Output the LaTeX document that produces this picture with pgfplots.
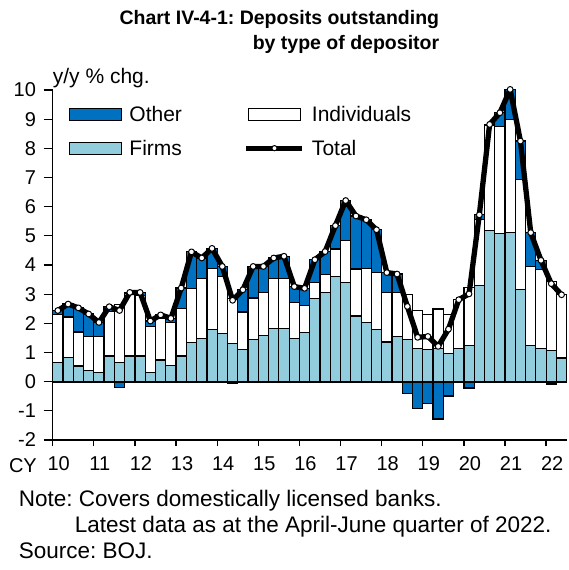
\documentclass[border=0pt]{standalone}
\usepackage{fontspec}
\setmainfont{Liberation Sans}
\usepackage{pgfplots}
\pgfplotsset{compat=1.18}
\usepackage{pgfplotstable}
\frenchspacing

\definecolor{otherblue}{RGB}{0,112,192}
\definecolor{firmblue}{RGB}{146,205,221}

% quarter index (0 = 2010 Q1), firms, individuals, other, total
\pgfplotstableread{
q  F    I    O     T
0  0.67 1.63 0.14  2.44
1  0.82 1.40 0.44  2.66
2  0.54 1.16 0.83  2.53
3  0.39 1.15 0.78  2.32
4  0.32 1.22 0.49  2.03
5  0.88 1.52 0.17  2.57
6  0.66 1.98 -0.20 2.44
7  0.88 2.15 0.03  3.06
8  0.88 2.08 0.10  3.06
9  0.32 1.56 0.20  2.08
10 0.74 1.43 0.12  2.29
11 0.55 1.47 0.15  2.17
12 0.88 1.62 0.71  3.21
13 1.35 1.84 1.26  4.45
14 1.49 2.05 0.70  4.24
15 1.78 2.09 0.70  4.57
16 1.64 1.96 0.35  3.95
17 1.30 1.54 -0.05 2.79
18 1.10 1.29 0.76  3.15
19 1.44 1.43 1.08  3.95
20 1.58 1.48 0.89  3.95
21 1.82 1.71 0.71  4.24
22 1.82 1.71 0.77  4.30
23 1.48 1.24 0.54  3.26
24 1.69 0.93 0.58  3.20
25 2.84 0.56 0.78  4.18
26 3.06 0.62 0.78  4.46
27 3.61 0.94 0.80  5.35
28 3.40 1.43 1.38  6.21
29 2.25 1.61 1.82  5.68
30 2.03 1.86 1.66  5.55
31 1.78 1.96 1.47  5.21
32 1.36 1.70 0.68  3.74
33 1.55 1.51 0.63  3.69
34 1.44 1.54 -0.40 2.58
35 1.14 1.29 -0.91 1.52
36 1.10 1.19 -0.74 1.55
37 1.15 1.34 -1.28 1.21
38 0.96 1.33 -0.49 1.80
39 1.15 1.66 0.00  2.81
40 1.23 2.00 -0.22 3.01
41 3.29 2.28 0.15  5.72
42 5.18 3.62 0.02  8.82
43 5.07 3.67 0.48  9.22
44 5.11 3.89 1.02  10.02
45 3.15 3.77 1.33  8.25
46 1.23 2.72 1.16  5.11
47 1.15 2.69 0.32  4.16
48 1.07 2.37 -0.08 3.36
49 0.81 2.17 0.00  2.98
}\deposits

\tikzset{barstyle/.style={draw=black, line width=1.2pt}}
\pgfplotsset{
  depbase/.style={
    scale only axis, width=514pt, height=350pt,
    xmin=-0.5, xmax=49.5, ymin=-2, ymax=10,
    bar width=1, clip=false,
  },
}

\begin{document}
\begin{tikzpicture}[font=\fontsize{21}{25}\selectfont]
\path[use as bounding box] (-52.7pt,-130pt) rectangle (515.3pt,440pt);

% negative part of "other", drawn down from zero
\begin{axis}[depbase, hide axis, ybar]
  \addplot[barstyle, fill=otherblue] table[x=q, y expr={min(\thisrow{O},0)}]{\deposits};
\end{axis}

\begin{axis}[depbase, ybar stacked,
  axis x line=bottom, axis y line=left,
  axis line style={-, line width=1.3pt},
  tick align=outside,
  tick label style={font=\fontsize{20}{24}\selectfont},
  xtick={-0.5,3.5,...,47.5},
  xticklabels={10,11,12,13,14,15,16,17,18,19,20,21,22},
  xtick style={black, line width=1.3pt, /pgfplots/major tick length=6pt},
  xticklabel style={anchor=north, xshift=6pt, yshift=-9pt},
  ytick={-2,...,10},
  yticklabels={-2,-1,0,1,2,3,4,5,6,7,8,9,10},
  ytick style={black, line width=1.3pt, /pgfplots/major tick length=9pt},
  yticklabel style={anchor=east, xshift=-9pt},
  legend columns=2,
  legend style={draw=none, fill=none, at={(0.026,0.966)}, anchor=north west,
    cells={anchor=west}, row sep=13pt,
    /tikz/every odd column/.append style={column sep=5pt},
    /tikz/every even column/.append style={column sep=60pt}},
]
  \addlegendimage{legend image code/.code={\draw[barstyle, fill=otherblue] (0pt,-6pt) rectangle (52pt,6pt);}}
  \addlegendentry{Other}
  \addlegendimage{legend image code/.code={\draw[barstyle, fill=white] (0pt,-6pt) rectangle (52pt,6pt);}}
  \addlegendentry{Individuals}
  \addlegendimage{legend image code/.code={\draw[barstyle, fill=firmblue] (0pt,-6pt) rectangle (52pt,6pt);}}
  \addlegendentry{Firms}
  \addlegendimage{legend image code/.code={\draw[line width=5pt] (-2pt,0pt) -- (54pt,0pt);
      \draw[fill=white, line width=1pt] (26pt,0pt) circle (2.6pt);}}
  \addlegendentry{Total}

  \addplot[barstyle, fill=firmblue] table[x=q, y=F]{\deposits};
  \addplot[barstyle, fill=white] table[x=q, y=I]{\deposits};
  \addplot[barstyle, fill=otherblue] table[x=q, y expr={max(\thisrow{O},0)}]{\deposits};
  \draw[line width=2pt] (axis cs:-0.5,0) -- (axis cs:49.5,0);
\end{axis}

% total line on top
\begin{axis}[depbase, hide axis]
  \addplot[line width=5.3pt, black, line join=round,
    mark=*, mark size=2.9pt, mark options={fill=white, draw=black, line width=1pt}]
    table[x=q, y=T]{\deposits};
\end{axis}

\node[anchor=base east, font=\fontsize{19.5}{23}\selectfont\bfseries] at (390pt,415pt) {Chart IV-4-1: Deposits outstanding};
\node[anchor=base east, font=\fontsize{19.5}{23}\selectfont\bfseries] at (390pt,390pt) {by type of depositor};
\node[anchor=base west, inner sep=0pt] at (0pt,356pt) {y/y \% chg.};
\node[anchor=base east, inner sep=0pt, font=\fontsize{20}{24}\selectfont] at (-15.7pt,-32pt) {CY};
\begin{scope}[font=\fontsize{22.5}{26}\selectfont]
\node[anchor=base west, inner sep=0pt] at (-34pt,-66pt) {Note: Covers domestically licensed banks.};
\node[anchor=base west, inner sep=0pt] at (22pt,-92pt) {Latest data as at the April-June quarter of 2022.};
\node[anchor=base west, inner sep=0pt] at (-34pt,-118pt) {Source: BOJ.};
\end{scope}
\end{tikzpicture}
\end{document}
